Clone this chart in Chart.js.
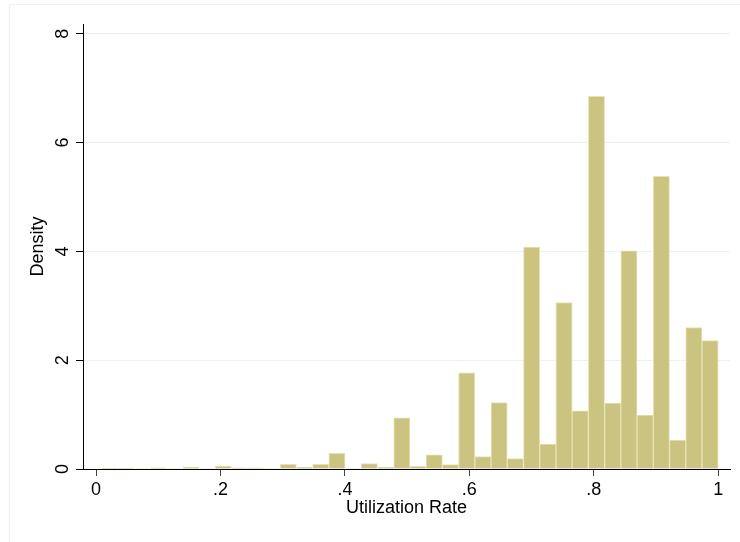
<!DOCTYPE html>
<html lang="en">
<head>
    <meta charset="UTF-8">
    <title>Utilization Rate Histogram</title>
    <style>
        body { margin: 0; background: #fff; }
        #wrap { position: relative; width: 740px; height: 542px; overflow: hidden; }
        #frame { position: absolute; left: 9px; top: 4px; width: 760px; height: 600px; border: 1px solid rgb(234,242,243); }
        canvas { position: absolute; left: 0; top: 0; }
    </style>
</head>
<body>
    <div id="wrap">
        <div id="frame"></div>
        <canvas id="hist" width="740" height="542"></canvas>
    </div>
    <script src="https://cdn.jsdelivr.net/npm/chart.js"></script>
    <script>
        // bin midpoints (38 bins from about .009 to 1)
        const binMids = [
            0.0220, 0.0481, 0.0742, 0.1003, 0.1264, 0.1524, 0.1785, 0.2046,
            0.2307, 0.2568, 0.2828, 0.3089, 0.3350, 0.3611, 0.3872, 0.4132,
            0.4393, 0.4654, 0.4915, 0.5176, 0.5436, 0.5697, 0.5958, 0.6219,
            0.6479, 0.6740, 0.7001, 0.7262, 0.7523, 0.7783, 0.8044, 0.8305,
            0.8566, 0.8827, 0.9087, 0.9348, 0.9609, 0.9870
        ];
        const density = [
            0.015, 0.015, 0.01, 0.02, 0.01, 0.03, 0.01, 0.055,
            0.02, 0.02, 0.01, 0.085, 0.03, 0.085, 0.29, 0.01,
            0.10, 0.035, 0.94, 0.05, 0.26, 0.08, 1.77, 0.23,
            1.22, 0.19, 4.08, 0.46, 3.06, 1.07, 6.85, 1.21,
            4.01, 0.99, 5.38, 0.53, 2.60, 2.36
        ];
        const xTicks = [0, 0.2, 0.4, 0.6, 0.8, 1];
        const xTickLabels = ['0', '.2', '.4', '.6', '.8', '1'];
        const yTicks = [0, 2, 4, 6, 8];

        const font = { family: "'Liberation Sans', Arial, sans-serif", size: 18 };

        new Chart(document.getElementById('hist'), {
            type: 'bar',
            data: {
                datasets: [{
                    data: binMids.map((x, i) => ({ x: x, y: density[i] })),
                    backgroundColor: 'rgb(203,195,128)',
                    borderColor: 'rgb(230,226,182)',
                    borderWidth: 1,
                    borderSkipped: 'bottom',
                    barPercentage: 1,
                    categoryPercentage: 1
                }]
            },
            options: {
                responsive: false,
                animation: false,
                layout: { padding: { left: 0, top: 24, right: 10, bottom: 0 } },
                plugins: { legend: { display: false }, tooltip: { enabled: false } },
                scales: {
                    x: {
                        type: 'linear',
                        min: -0.021,
                        max: 1.019,
                        offset: false,
                        afterBuildTicks: s => { s.ticks = xTicks.map(v => ({ value: v })); },
                        afterFit: s => { s.height = 73; },
                        ticks: {
                            color: '#000',
                            font: font,
                            padding: 3,
                            maxRotation: 0,
                            callback: (v) => xTickLabels[xTicks.indexOf(v)]
                        },
                        grid: { offset: false, drawOnChartArea: false, tickLength: 7, tickColor: '#444' },
                        border: { color: '#000', width: 1 },
                        title: { display: true, text: 'Utilization Rate', color: '#000', font: font, padding: { top: 0, bottom: 23 } }
                    },
                    y: {
                        min: 0,
                        max: 8.18,
                        afterBuildTicks: s => { s.ticks = yTicks.map(v => ({ value: v })); },
                        afterFit: s => { s.width = 83; },
                        ticks: {
                            color: '#000',
                            font: font,
                            padding: 8,
                            minRotation: 90,
                            maxRotation: 90,
                            crossAlign: 'center'
                        },
                        grid: { color: 'rgb(234,242,243)', tickLength: 7, tickColor: '#000' },
                        border: { color: '#000', width: 1 },
                        title: { display: true, text: 'Density', color: '#000', font: font, padding: { top: 27, bottom: 0 } }
                    }
                }
            }
        });
    </script>
</body>
</html>
